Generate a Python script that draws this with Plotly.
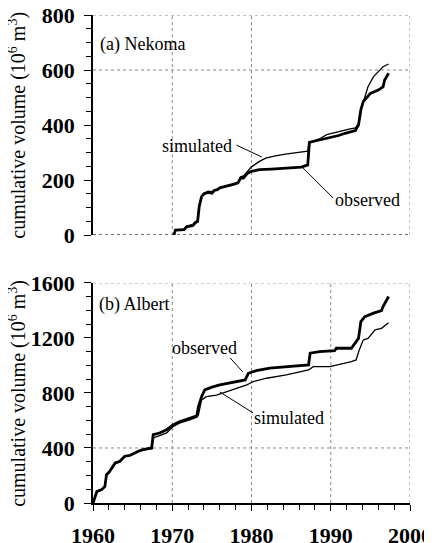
import plotly.graph_objects as go

# ---------------- data ----------------
nek_obs_year = [1970.2, 1970.4, 1971.5, 1971.8, 1972.6, 1972.9, 1973.2, 1973.4, 1973.7, 1974.0,
                1974.5, 1975.0, 1975.3, 1975.7, 1976.0, 1977.0, 1977.8, 1978.3, 1978.6, 1979.0,
                1979.5, 1980.0, 1981.0, 1982.5, 1984.0, 1985.5, 1986.3, 1987.1, 1987.3, 1988.0,
                1989.0, 1990.0, 1991.0, 1991.8, 1993.1, 1993.5, 1993.8, 1994.1, 1995.0, 1996.0,
                1996.6, 1996.8, 1997.3]
nek_obs_vol = [0, 18, 20, 30, 35, 45, 50, 103, 140, 150,
               155, 152, 162, 165, 172, 178, 185, 190, 206, 208,
               225, 232, 238, 240, 243, 245, 247, 255, 337, 342,
               348, 355, 362, 370, 380, 400, 455, 485, 515, 527,
               539, 564, 588]

nek_sim_year = [1970.2, 1970.4, 1971.5, 1971.8, 1972.6, 1972.9, 1973.2, 1973.4, 1973.7, 1974.0,
                1974.5, 1975.0, 1975.5, 1976.0, 1977.0, 1977.8, 1978.3, 1978.6, 1979.0, 1979.5,
                1980.0, 1980.5, 1981.0, 1981.8, 1983.0, 1984.5, 1986.0, 1987.1, 1987.3, 1988.0,
                1988.7, 1989.5, 1990.5, 1991.5, 1992.3, 1993.1, 1993.5, 1993.8, 1994.1, 1994.7,
                1995.4, 1996.0, 1996.6, 1997.3]
nek_sim_vol = [0, 18, 22, 32, 38, 48, 55, 105, 140, 150,
               160, 158, 165, 172, 178, 183, 190, 212, 215, 232,
               248, 258, 268, 280, 288, 295, 300, 305, 337, 345,
               352, 365, 373, 380, 385, 390, 405, 455, 485, 539,
               576, 594, 612, 622]

alb_obs_year = [1960.0, 1960.25, 1960.5, 1961.1, 1961.5, 1961.7, 1962.1, 1962.8, 1963.4, 1964.0,
                1964.7, 1965.7, 1966.3, 1967.4, 1967.6, 1968.4, 1969.3, 1970.1, 1970.9, 1972.2,
                1973.1, 1973.3, 1973.7, 1974.1, 1975.0, 1976.0, 1978.1, 1979.2, 1979.6, 1980.6,
                1982.3, 1984.9, 1987.2, 1987.4, 1988.6, 1990.5, 1990.7, 1992.6, 1993.1, 1993.5,
                1993.8, 1994.3, 1995.4, 1996.4, 1996.6, 1997.3]
alb_obs_vol = [0, 49, 85, 97, 121, 206, 230, 291, 303, 340,
               347, 376, 388, 400, 497, 509, 533, 567, 591, 616,
               633, 700, 773, 822, 842, 858, 882, 895, 943, 962,
               980, 991, 1004, 1089, 1100, 1108, 1125, 1125, 1161, 1197,
               1319, 1355, 1380, 1399, 1428, 1501]

alb_sim_year = [1960.0, 1960.25, 1960.5, 1961.1, 1961.5, 1961.7, 1962.1, 1962.8, 1963.4, 1964.0,
                1964.7, 1965.7, 1966.3, 1967.4, 1967.6, 1968.4, 1969.3, 1970.1, 1970.9, 1972.2,
                1973.1, 1973.3, 1973.7, 1974.3, 1975.6, 1976.9, 1978.5, 1979.4, 1980.2, 1981.9,
                1984.4, 1987.2, 1987.8, 1989.9, 1992.6, 1993.2, 1993.6, 1994.1, 1994.7, 1995.6,
                1996.4, 1997.3]
alb_sim_vol = [0, 45, 80, 95, 118, 200, 225, 285, 300, 335,
               345, 372, 385, 395, 473, 490, 509, 555, 580, 604,
               624, 640, 749, 773, 785, 810, 842, 858, 882, 907,
               931, 967, 991, 991, 1028, 1040, 1113, 1185, 1197, 1258,
               1270, 1311]

x_ticks = [1960, 1970, 1980, 1990, 2000]
nek_y_ticks = [0, 200, 400, 600, 800]
alb_y_ticks = [0, 400, 800, 1200, 1600]

# ---------------- figure ----------------
SERIF = "Liberation Serif, Times New Roman, Times, serif"
fig = go.Figure()

thick = dict(color="black", width=2.8)
thin = dict(color="black", width=1.3)

fig.add_trace(go.Scatter(x=nek_sim_year, y=nek_sim_vol, mode="lines", line=thin,
                         xaxis="x", yaxis="y", showlegend=False))
fig.add_trace(go.Scatter(x=nek_obs_year, y=nek_obs_vol, mode="lines", line=thick,
                         xaxis="x", yaxis="y", showlegend=False))
fig.add_trace(go.Scatter(x=alb_sim_year, y=alb_sim_vol, mode="lines", line=thin,
                         xaxis="x2", yaxis="y2", showlegend=False))
fig.add_trace(go.Scatter(x=alb_obs_year, y=alb_obs_vol, mode="lines", line=thick,
                         xaxis="x2", yaxis="y2", showlegend=False))

tickfont = dict(family=SERIF, size=22, color="black", weight="bold")

yaxis_common = dict(showline=True, linecolor="black", linewidth=1.5, showgrid=False,
                    zeroline=False, ticks="outside", ticklen=7, tickwidth=1.2,
                    tickcolor="black", tickfont=tickfont, ticklabelstandoff=5,
                    automargin=False, ticklabeloverflow="allow")

# page body adds an 8px offset, so the figure is sized 424x535
fig.update_layout(
    width=424, height=535,
    margin=dict(l=85, r=22, t=7, b=40),
    plot_bgcolor="white", paper_bgcolor="white",
    font=dict(family=SERIF, color="black"),
    xaxis=dict(domain=[0, 1], anchor="y", range=[1960, 2000], showline=False,
               showgrid=False, zeroline=False, showticklabels=False, ticks="",
               automargin=False),
    yaxis=dict(domain=[0.549, 1], anchor="x", range=[0, 800], tickvals=nek_y_ticks,
               minor=dict(dtick=50, ticks="outside", ticklen=5, tickcolor="black", tickwidth=1),
               **yaxis_common),
    xaxis2=dict(domain=[0, 1], anchor="y2", range=[1960, 2000], tickvals=x_ticks,
                showline=True, linecolor="black", linewidth=1.5, showgrid=False,
                zeroline=False, ticks="outside", ticklen=6, tickwidth=1.2, tickcolor="black",
                minor=dict(dtick=2, ticks="outside", ticklen=5, tickcolor="black", tickwidth=1),
                tickfont=tickfont, ticklabelstandoff=6, automargin=False,
                ticklabeloverflow="allow"),
    yaxis2=dict(domain=[0, 0.451], anchor="x2", range=[0, 1600], tickvals=alb_y_ticks,
                minor=dict(dtick=100, ticks="outside", ticklen=5, tickcolor="black", tickwidth=1),
                **yaxis_common),
)

grid = dict(color="#888888", width=1, dash="dot")
shapes = [
    # top panel frame & grid
    dict(type="line", xref="x", yref="y", x0=1960, x1=2000, y0=800, y1=800, line=grid),
    dict(type="line", xref="x", yref="y", x0=2000, x1=2000, y0=0, y1=800, line=grid),
    dict(type="line", xref="x", yref="y", x0=1960, x1=2000, y0=0, y1=0,
         line=dict(color="#444444", width=1.5, dash="dot")),
    dict(type="line", xref="x", yref="y", x0=1960, x1=2000, y0=600, y1=600, line=grid),
    dict(type="line", xref="x", yref="y", x0=1970, x1=1970, y0=0, y1=800, line=grid),
    dict(type="line", xref="x", yref="y", x0=1980, x1=1980, y0=0, y1=800, line=grid),
    # bottom panel frame & grid
    dict(type="line", xref="x2", yref="y2", x0=1960, x1=2000, y0=1600, y1=1600, line=grid),
    dict(type="line", xref="x2", yref="y2", x0=2000, x1=2000, y0=0, y1=1600, line=grid),
    dict(type="line", xref="x2", yref="y2", x0=1960, x1=2000, y0=400, y1=400, line=grid),
    dict(type="line", xref="x2", yref="y2", x0=1970, x1=1970, y0=0, y1=1600, line=grid),
    dict(type="line", xref="x2", yref="y2", x0=1980, x1=1980, y0=0, y1=1600, line=grid),
    dict(type="line", xref="x2", yref="y2", x0=1990, x1=1990, y0=0, y1=1600, line=grid),
    # leader lines
    dict(type="line", xref="x", yref="y", x0=1978.1, y0=327, x1=1981.3, y1=284,
         line=dict(color="black", width=1)),
    dict(type="line", xref="x", yref="y", x0=1986.5, y0=244, x1=1990.3, y1=135,
         line=dict(color="black", width=1)),
    dict(type="line", xref="x2", yref="y2", x0=1977.3, y0=1055, x1=1978.9, y1=953,
         line=dict(color="black", width=1)),
    dict(type="line", xref="x2", yref="y2", x0=1976.0, y0=807, x1=1980.2, y1=655,
         line=dict(color="black", width=1)),
]
for s in shapes:
    s["layer"] = "below"
fig.update_layout(shapes=shapes)

lab = dict(family=SERIF, size=18, color="black")
ytitle = "cumulative volume (10<sup>6</sup> m<sup>3</sup>)"
ann = [
    dict(text="(a) Nekoma", xref="x", yref="y", x=1960.6, y=691, xanchor="left",
         yanchor="middle", showarrow=False, font=lab),
    dict(text="(b) Albert", xref="x2", yref="y2", x=1960.5, y=1440, xanchor="left",
         yanchor="middle", showarrow=False, font=lab),
    dict(text="simulated", xref="x", yref="y", x=1973.1, y=324, xanchor="center",
         yanchor="middle", showarrow=False, font=lab),
    dict(text="observed", xref="x", yref="y", x=1994.6, y=127, xanchor="center",
         yanchor="middle", showarrow=False, font=lab),
    dict(text="observed", xref="x2", yref="y2", x=1974.1, y=1127, xanchor="center",
         yanchor="middle", showarrow=False, font=lab),
    dict(text="simulated", xref="x2", yref="y2", x=1984.7, y=618, xanchor="center",
         yanchor="middle", showarrow=False, font=lab),
    dict(text=ytitle, xref="paper", yref="paper", x=-0.237, y=0.775, textangle=-90,
         xanchor="center", yanchor="middle", showarrow=False,
         font=dict(family=SERIF, size=20, color="black")),
    dict(text=ytitle, xref="paper", yref="paper", x=-0.237, y=0.2255, textangle=-90,
         xanchor="center", yanchor="middle", showarrow=False,
         font=dict(family=SERIF, size=20, color="black")),
]
fig.update_layout(annotations=ann)

fig.write_html("out.html")
